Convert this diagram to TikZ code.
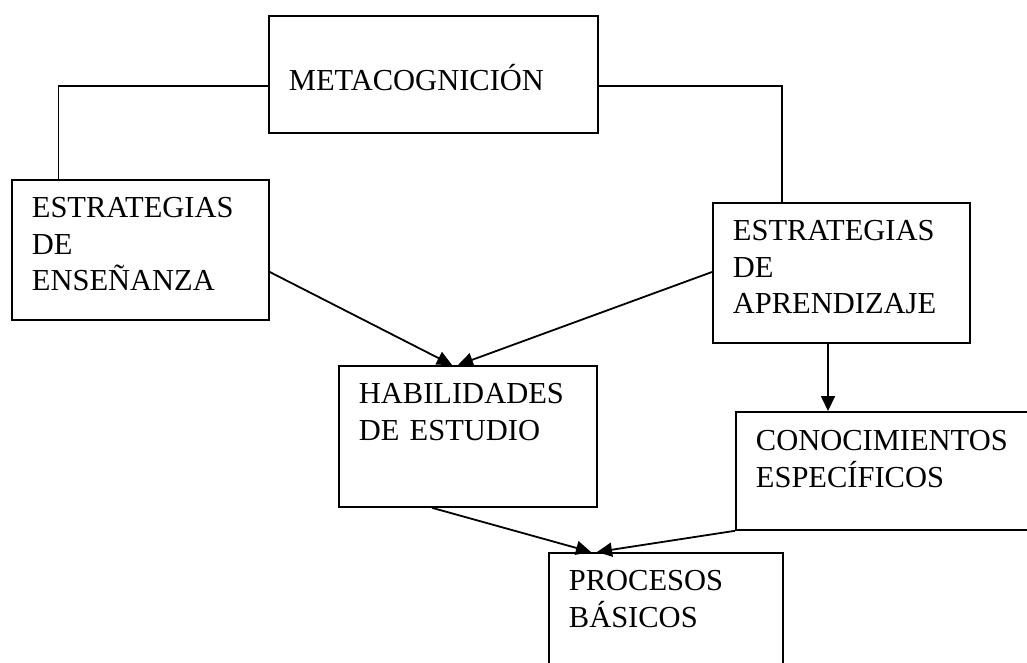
\documentclass[tikz,border=0pt]{standalone}
\usepackage{fontspec}
\setmainfont{Liberation Serif}
\usepackage{tikz}
\usetikzlibrary{arrows.meta, positioning}

\tikzset{
  caja/.style={draw, line width=1.8pt, anchor=north west, inner xsep=20pt, inner ysep=0pt,
    align=left, font=\fontsize{30.5pt}{36.5pt}\selectfont},
}

\begin{document}
\begin{tikzpicture}[x=1pt,y=-1pt,line width=1.8pt,>={Triangle[length=15pt,width=14pt]}]
\useasboundingbox (0,0) rectangle (1027,663);

\node (meta) [caja, text width=289pt, text height=75pt, text depth=42pt] at (268,15) {METACOGNICIÓN};
\node (ens) [caja, text width=217pt, text height=38pt, text depth=102pt] at (11,179) {ESTRATEGIAS\\DE\\ENSEÑANZA};
\node (apr) [caja, text width=217pt, text height=38pt, text depth=102pt] at (712,202) {ESTRATEGIAS\\DE\\APRENDIZAJE};
\node (hab) [caja, text width=218pt, text height=38pt, text depth=103pt] at (338,365) {HABILIDADES\\DE ESTUDIO};
\node (con) [caja, text width=275pt, text height=39pt, text depth=79pt] at (735,411) {CONOCIMIENTOS\\ESPECÍFICOS};
\node (pro) [caja, text width=194pt, text height=38pt, text depth=90pt] at (548,552) {PROCESOS\\BÁSICOS};

% metacognicion con las estrategias
\draw ([yshift=-11.5pt]meta.west) -| ([xshift=47.5pt]ens.north west);
\draw ([yshift=-11.5pt]meta.east) -| ([xshift=70pt]apr.north west);

\draw[->] ([yshift=-93pt]ens.north east) -- ([xshift=114pt]hab.north west);
\draw[->] ([yshift=-70pt]apr.north west) -- ([xshift=120pt]hab.north west);
\draw[->] ([xshift=116pt]apr.south west) -- ([xshift=93pt]con.north west);
\draw[->] ([xshift=94pt]hab.south west) -- ([xshift=43pt]pro.north west);
\draw[->] (con.south west) -- ([xshift=49pt]pro.north west);
\end{tikzpicture}
\end{document}
